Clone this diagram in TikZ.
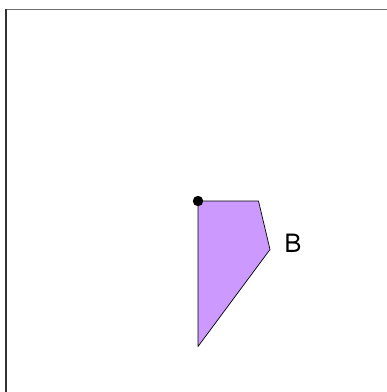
\documentclass[tikz,border=0pt]{standalone}
\usepackage{xcolor}
\usepackage{fontspec}
\newfontfamily\lomafont{Loma}
\usepackage{tikz}

\definecolor{regionfill}{RGB}{204,153,255}
\definecolor{framegray}{RGB}{110,110,110}
\definecolor{framedark}{RGB}{50,50,50}

\begin{document}
\begin{tikzpicture}[x=1pt, y=-1pt, >=stealth]
  % Canvas
  \useasboundingbox (0,0) rectangle (387,392);
  \fill[white] (0,0) rectangle (387,392);

  % Frame edges (top and left)
  \draw[framegray, line width=1.6pt] (6,9.5) -- (387,9.5);
  \draw[framedark, line width=1.6pt] (6,9) -- (6,392);

  % Region B
  \coordinate (p1) at (198,201);
  \coordinate (p2) at (258.5,201);
  \coordinate (p3) at (270,249.5);
  \coordinate (p4) at (198,346.5);
  \fill[regionfill] (p1) -- (p2) -- (p3) -- (p4) -- cycle;
  \draw[black, line width=0.7pt, line join=round] (p1) -- (p2) -- (p3) -- (p4) -- cycle;

  % Corner point
  \fill[black] (p1) circle (5.2);

  % Label
  \node[inner sep=0pt, font=\lomafont\fontsize{26}{26}\selectfont] (labelB) at (293,243) {B};
\end{tikzpicture}
\end{document}
